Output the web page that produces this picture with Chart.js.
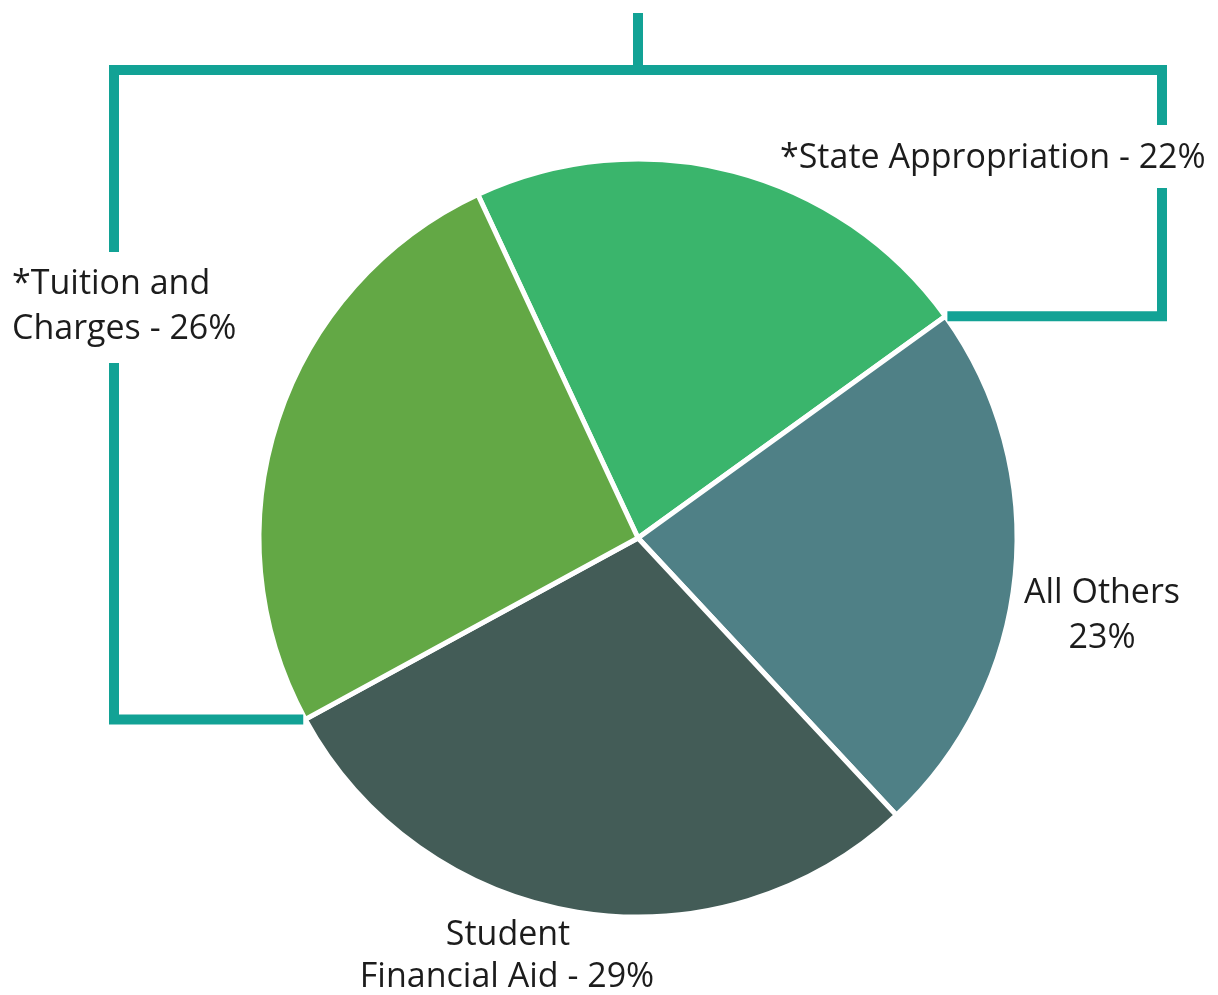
<!DOCTYPE html>
<html>
<head>
<meta charset="utf-8">
<title>Revenue Sources</title>
<script src="https://cdn.jsdelivr.net/npm/chart.js@4.4.1/dist/chart.umd.min.js"></script>
<style>
  html, body { margin: 0; padding: 0; background: #fff; }
  #wrap { width: 1218px; height: 995px; }
</style>
</head>
<body>
<div id="wrap"><canvas id="pie"></canvas></div>
<script>
// slice data, clockwise from the top-left boundary
var labels = ['*State Appropriation', 'All Others', 'Student Financial Aid', '*Tuition and Charges'];
var shares = [22, 23, 29, 26];
var colors = ['#3ab56c', '#4f8086', '#435c57', '#63a845'];

// label text as printed beside each slice
var labelLines = [
    ['*State Appropriation - ' + shares[0] + '%'],
    ['All Others', shares[1] + '%'],
    ['Student', 'Financial Aid - ' + shares[2] + '%'],
    ['*Tuition and', 'Charges - ' + shares[3] + '%']
];

var teal = '#12a295';
var textColor = '#1c1c1c';
var font = '34px "Open Sans", "Noto Sans", sans-serif';

// point on the rim of an arc at a given angle
function rim(arc, angle) {
    return { x: arc.x + Math.cos(angle) * arc.outerRadius, y: arc.y + Math.sin(angle) * arc.outerRadius };
}

var bracketPlugin = {
    id: 'bracket',
    afterDatasetsDraw: function(chart) {
        var ctx = chart.ctx;
        var arcs = chart.getDatasetMeta(0).data;
        var cx = arcs[0].x;
        // bracket ends where state / others and aid / tuition meet
        var right = rim(arcs[0], arcs[0].endAngle);
        var left = rim(arcs[3], arcs[3].startAngle);
        var topY = 70, leftX = 114, rightX = 1162;

        ctx.save();
        ctx.strokeStyle = teal;
        ctx.lineWidth = 10;
        ctx.lineCap = 'butt';
        ctx.lineJoin = 'miter';

        ctx.beginPath();
        ctx.moveTo(cx, 13);
        ctx.lineTo(cx, topY);
        ctx.stroke();

        ctx.beginPath();
        ctx.moveTo(leftX, 252);
        ctx.lineTo(leftX, topY);
        ctx.lineTo(rightX, topY);
        ctx.lineTo(rightX, 125);
        ctx.stroke();

        ctx.beginPath();
        ctx.moveTo(leftX, 363);
        ctx.lineTo(leftX, left.y);
        ctx.lineTo(left.x - 2, left.y);
        ctx.stroke();

        ctx.beginPath();
        ctx.moveTo(rightX, 188);
        ctx.lineTo(rightX, right.y);
        ctx.lineTo(right.x + 2, right.y);
        ctx.stroke();

        // slice labels
        ctx.fillStyle = textColor;
        ctx.font = font;
        ctx.textBaseline = 'middle';
        ctx.textAlign = 'left';
        ctx.fillText(labelLines[0][0], 780, 158);
        ctx.fillText(labelLines[3][0], 12, 284);
        ctx.fillText(labelLines[3][1], 12, 329);
        ctx.textAlign = 'center';
        ctx.fillText(labelLines[1][0], 1102, 593);
        ctx.fillText(labelLines[1][1], 1102, 638);
        ctx.fillText(labelLines[2][0], 508, 935);
        ctx.fillText(labelLines[2][1], 507, 977);
        ctx.restore();
    }
};

new Chart(document.getElementById('pie'), {
    type: 'pie',
    data: {
        labels: labels,
        datasets: [{
            data: shares,
            backgroundColor: colors,
            borderColor: '#ffffff',
            borderWidth: 5,
            radius: 379
        }]
    },
    options: {
        responsive: true,
        maintainAspectRatio: false,
        animation: false,
        rotation: -25,
        layout: { padding: { left: 58, right: 0, top: 81, bottom: 0 } },
        plugins: {
            legend: { display: false },
            tooltip: { enabled: false }
        }
    },
    plugins: [bracketPlugin]
});
</script>
</body>
</html>
